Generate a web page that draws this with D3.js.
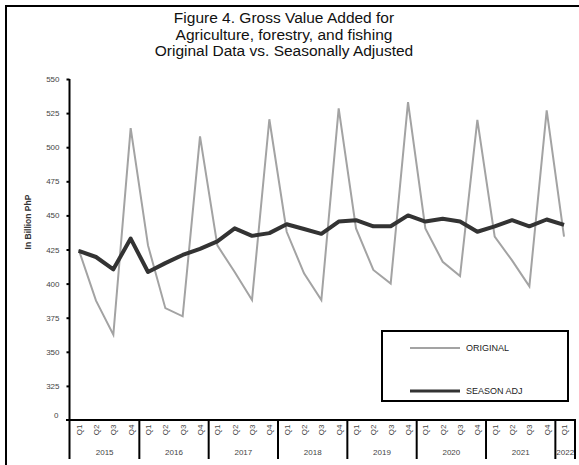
<!DOCTYPE html>
<html>
<head>
<meta charset="utf-8">
<script src="https://cdn.jsdelivr.net/npm/d3@7"></script>
<style>
  html, body { margin: 0; padding: 0; background: #fff; }
  svg { display: block; font-family: "Liberation Sans", Arial, sans-serif; }
</style>
</head>
<body>
<svg id="chart" width="579" height="465"></svg>
<script>
const titleLines = ["Figure 4. Gross Value Added for", "Agriculture, forestry, and fishing", "Original Data vs. Seasonally Adjusted"];
const years = ["2015", "2016", "2017", "2018", "2019", "2020", "2021", "2022"];
const quarters = ["Q1","Q2","Q3","Q4","Q1","Q2","Q3","Q4","Q1","Q2","Q3","Q4","Q1","Q2","Q3","Q4","Q1","Q2","Q3","Q4","Q1","Q2","Q3","Q4","Q1","Q2","Q3","Q4","Q1"];
const original = [425, 387.5, 362.5, 514, 428, 382, 376, 508, 428, 408.5, 388, 520.5, 438, 407.5, 388, 528.5, 440.5, 410, 400, 533, 440.5, 416, 405.5, 520, 434.5, 417, 398, 527, 434.5];
const seasonAdj = [424, 419.5, 410.5, 433, 408.5, 415, 421, 425.5, 431, 440.5, 435, 437, 443.5, 440, 436.5, 445.5, 446.5, 442, 442, 450, 445.5, 447.5, 445.5, 438, 442, 446.5, 442, 447, 443];
const yTicks = [300, 325, 350, 375, 400, 425, 450, 475, 500, 525, 550];
const yTickLabels = ["0", "325", "350", "375", "400", "425", "450", "475", "500", "525", "550"];
const seriesNames = ["ORIGINAL", "SEASON ADJ"];

const svg = d3.select("#chart");

// outer frame (cropped at right and bottom)
svg.append("rect").attr("x", 6).attr("y", 6).attr("width", 600).attr("height", 500)
  .attr("fill", "none").attr("stroke", "#000").attr("stroke-width", 2);

// title
svg.append("g").selectAll("text").data(titleLines).join("text")
  .attr("x", 284).attr("y", (d, i) => 23 + i * 16.6)
  .attr("text-anchor", "middle").attr("font-size", 15.5).attr("fill", "#111")
  .text(d => d);

const idx = d3.range(quarters.length);
const x = d3.scaleBand().domain(idx).range([70, 572.7]).padding(0);
const y = d3.scaleLinear().domain([300, 550]).range([420, 79]);
const cx = i => x(i) + x.bandwidth() / 2;

// y axis
const yAxis = d3.axisLeft(y).tickValues(yTicks.slice(1)).tickFormat((d) => yTickLabels[yTicks.indexOf(d)]).tickSize(3).tickPadding(7);
const gy = svg.append("g").attr("transform", "translate(69.5,0)").call(yAxis);
gy.select(".domain").remove();
gy.selectAll(".tick line").attr("stroke", "#000").attr("stroke-width", 2);
gy.selectAll(".tick text").attr("font-size", 8).attr("fill", "#444")
  .attr("font-family", "'Liberation Sans', Arial, sans-serif");
// "0" label at the base
svg.append("text").attr("x", 58.5).attr("y", y(yTicks[0]) - 5).attr("dy", "0.35em")
  .attr("text-anchor", "end").attr("font-size", 8).attr("fill", "#444").text(yTickLabels[0]);

svg.append("line").attr("x1", 69.5).attr("x2", 69.5).attr("y1", y(550)).attr("y2", 459)
  .attr("stroke", "#000").attr("stroke-width", 2);

// x axis line
svg.append("line").attr("x1", 66).attr("x2", 576).attr("y1", 420).attr("y2", 420)
  .attr("stroke", "#000").attr("stroke-width", 2);

// quarter labels
svg.append("g").selectAll("text").data(idx).join("text")
  .attr("transform", i => `translate(${cx(i) + 3},430) rotate(-90)`)
  .attr("text-anchor", "middle").attr("font-size", 8).attr("fill", "#444")
  .text(i => quarters[i]);

// year separators and labels
const yearStart = years.map((yr, k) => x(k * 4));
const yearEnd = years.map((yr, k) => (k * 4 + 4 <= quarters.length - 1) ? x(k * 4 + 4) : 575);
svg.append("g").selectAll("line").data(years.slice(1).concat(["end"])).join("line")
  .attr("x1", (d, k) => k < years.length - 1 ? yearStart[k + 1] : 575)
  .attr("x2", (d, k) => k < years.length - 1 ? yearStart[k + 1] : 575)
  .attr("y1", 420).attr("y2", 459).attr("stroke", "#000").attr("stroke-width", 2);
svg.append("g").selectAll("text").data(years).join("text")
  .attr("x", (d, k) => (yearStart[k] + yearEnd[k]) / 2).attr("y", 452)
  .attr("dy", "0.35em").attr("text-anchor", "middle").attr("font-size", 8).attr("fill", "#444")
  .text(d => d);

// lines
const line = d3.line().x((d, i) => cx(i)).y(d => y(d));
svg.append("path").datum(original).attr("d", line)
  .attr("fill", "none").attr("stroke", "#a3a3a3").attr("stroke-width", 2).attr("stroke-linejoin", "miter");
svg.append("path").datum(seasonAdj).attr("d", line)
  .attr("fill", "none").attr("stroke", "#333").attr("stroke-width", 4).attr("stroke-linejoin", "round");

// legend
const lg = svg.append("g");
lg.append("rect").attr("x", 382).attr("y", 331).attr("width", 186).attr("height", 70)
  .attr("fill", "#fff").attr("stroke", "#000").attr("stroke-width", 2);
const legendStyles = [{c: "#a3a3a3", w: 2, y: 348}, {c: "#333", w: 3, y: 391}];
seriesNames.forEach((name, k) => {
  lg.append("line").attr("x1", 410).attr("x2", 460).attr("y1", legendStyles[k].y).attr("y2", legendStyles[k].y)
    .attr("stroke", legendStyles[k].c).attr("stroke-width", legendStyles[k].w);
  lg.append("text").attr("x", 466).attr("y", legendStyles[k].y).attr("dy", "0.35em")
    .attr("font-size", 9).attr("fill", "#222").text(name);
});

// y axis title
svg.append("text").attr("transform", "translate(31,222) rotate(-90)")
  .attr("text-anchor", "middle").attr("font-size", 8.5).attr("font-weight", "bold").attr("fill", "#333")
  .text("In Billion PhP");
</script>
</body>
</html>
